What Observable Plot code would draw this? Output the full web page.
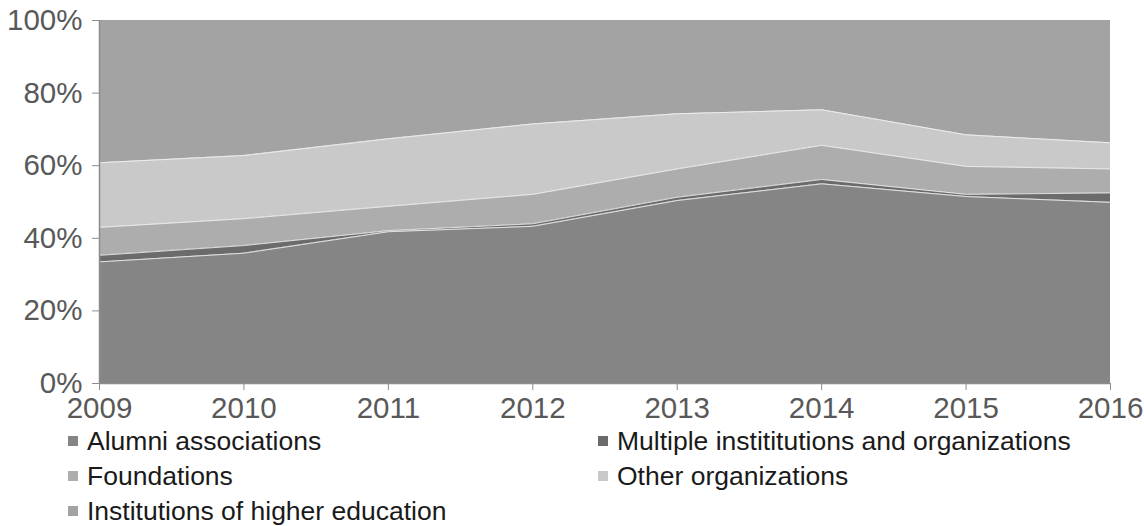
<!DOCTYPE html>
<html>
<head>
<meta charset="utf-8">
<script src="https://cdn.jsdelivr.net/npm/d3@7"></script>
<script src="https://cdn.jsdelivr.net/npm/@observablehq/plot@0.6"></script>
<style>
  body { margin: 0; background: #fff; font-family: "Liberation Sans", Arial, sans-serif; overflow: hidden; }
  #chart svg { display: block; }
  #legend { position: relative; width: 1144px; height: 98px; color: #1a1a1a; font-size: 26.5px; line-height: 30px; }
  .item { position: absolute; display: flex; align-items: center; white-space: nowrap; }
  .sw { width: 10px; height: 10px; margin-right: 9px; }
</style>
</head>
<body>
<div id="chart"></div>
<div id="legend"></div>
<script>
const years = [2009, 2010, 2011, 2012, 2013, 2014, 2015, 2016];
const seriesNames = [
  "Alumni associations",
  "Multiple instititutions and organizations",
  "Foundations",
  "Other organizations",
  "Institutions of higher education"
];
const alumni       = [33.5, 35.9, 41.8, 43.3, 50.4, 55.0, 51.5, 49.9];
const multiple     = [1.8, 2.1, 0.3, 0.7, 0.9, 1.2, 0.6, 2.6];
const foundations  = [7.7, 7.4, 6.7, 8.1, 7.8, 9.4, 7.7, 6.6];
const other        = [17.8, 17.4, 18.6, 19.4, 15.2, 9.8, 8.7, 7.2];
const institutions = [39.2, 37.2, 32.6, 28.5, 25.7, 24.6, 31.5, 33.7];
const seriesColors = ["#858585", "#6b6b6b", "#adadad", "#c9c9c9", "#a3a3a3"];
const yTicks = [0, 0.2, 0.4, 0.6, 0.8, 1];

const seriesValues = [alumni, multiple, foundations, other, institutions];
const data = [];
seriesNames.forEach((name, i) => {
  years.forEach((yr, j) => data.push({series: name, year: yr, value: seriesValues[i][j]}));
});
const topSeries = seriesNames[seriesNames.length - 1];

const chart = Plot.plot({
  width: 1144,
  height: 428,
  marginLeft: 99,
  marginRight: 34,
  marginTop: 20,
  marginBottom: 45,
  style: {fontFamily: "'Liberation Sans', Arial, sans-serif", fontSize: "29.5px", color: "#595959", background: "#fff"},
  x: {domain: [2009, 2016], ticks: years, tickFormat: d => String(d), label: null},
  y: {domain: [0, 1], ticks: yTicks, tickFormat: d3.format(".0%"), label: null},
  color: {domain: seriesNames, range: seriesColors},
  marks: [
    Plot.areaY(data, Plot.stackY({x: "year", y: "value", z: "series", fill: "series", offset: "normalize"})),
    Plot.lineY(data, Plot.stackY2({x: "year", y: "value", z: "series", offset: "normalize", stroke: "#f2f2f2", strokeWidth: 1, strokeOpacity: d => d.series === topSeries ? 0 : 0.85})),
    Plot.ruleX([2009], {stroke: "#8c8c8c", strokeWidth: 1.5}),
    Plot.ruleY([0], {stroke: "#8c8c8c", strokeWidth: 1.5}),
    Plot.axisY({ticks: yTicks, tickFormat: d3.format(".0%"), tickSize: 7, tickPadding: 10, stroke: "#8c8c8c", fill: "#595959", label: null}),
    Plot.axisX({ticks: years, tickFormat: d => String(d), tickSize: 7, tickPadding: 7, stroke: "#8c8c8c", fill: "#595959", label: null})
  ]
});
document.getElementById("chart").appendChild(chart);

const legendPos = [
  {left: 68, top: -2}, {left: 598, top: -2},
  {left: 68, top: 33}, {left: 598, top: 33},
  {left: 68, top: 68}
];
const legend = document.getElementById("legend");
seriesNames.forEach((name, i) => {
  const it = document.createElement("div");
  it.className = "item";
  it.style.left = legendPos[i].left + "px";
  it.style.top = legendPos[i].top + "px";
  const sw = document.createElement("span");
  sw.className = "sw";
  sw.style.background = seriesColors[i];
  const tx = document.createElement("span");
  tx.textContent = name;
  it.appendChild(sw);
  it.appendChild(tx);
  legend.appendChild(it);
});
</script>
</body>
</html>
